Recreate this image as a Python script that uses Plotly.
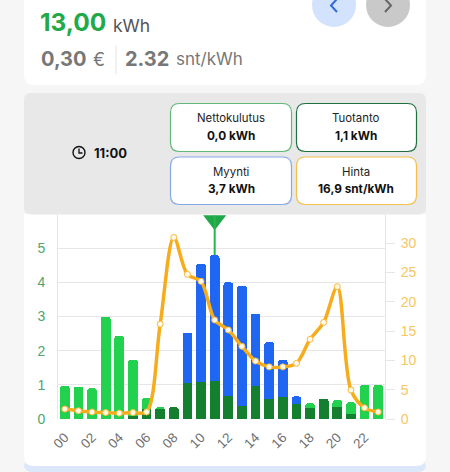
import plotly.graph_objects as go

hours = [f"{h:02d}" for h in range(24)]
tick_labels = [f"{h:02d}" for h in range(0, 24, 2)]
production = [0, 0, 0, 0, 0, 0.1, 0.28, 0.28, 0.35, 1.04, 1.07, 1.1, 0.67, 0.39, 0.98, 0.59, 0.65, 0.45, 0.32, 0.6, 0.36, 0.15, 0, 0]
consumption = [0.98, 0.95, 0.9, 3.0, 2.44, 1.64, 0.34, 0.07, 0, 0, 0, 0, 0, 0, 0, 0, 0, 0, 0.14, 0, 0.19, 0.34, 1.0, 1.0]
sold = [0, 0, 0, 0, 0, 0, 0, 0, 0, 1.49, 3.48, 3.7, 3.33, 3.51, 2.1, 1.66, 1.08, 0.21, 0, 0, 0, 0, 0, 0]
price = [1.7, 1.4, 1.2, 1.1, 1.0, 1.1, 1.2, 16.2, 31.0, 24.7, 23.5, 16.9, 15.2, 12.4, 9.9, 8.9, 8.9, 9.5, 13.6, 16.5, 22.6, 4.95, 1.9, 1.2]
selected_hour = "11"
selected_total = 4.8
left_ticks = [0, 1, 2, 3, 4, 5]
right_ticks = [0, 5, 10, 15, 20, 25, 30]

W, H = 450, 472
X = lambda x: x / W
Y = lambda y: 1 - y / H
FONT = "Inter, Roboto, sans-serif"


def rrect(x0, y0, x1, y1, r, tl=True, tr=True, br=True, bl=True):
    a, b, c, d = (r if tl else 0), (r if tr else 0), (r if br else 0), (r if bl else 0)
    p = [f"M{X(x0 + a)},{Y(y0)}", f"L{X(x1 - b)},{Y(y0)}"]
    if b: p.append(f"Q{X(x1)},{Y(y0)} {X(x1)},{Y(y0 + b)}")
    p.append(f"L{X(x1)},{Y(y1 - c)}")
    if c: p.append(f"Q{X(x1)},{Y(y1)} {X(x1 - c)},{Y(y1)}")
    p.append(f"L{X(x0 + d)},{Y(y1)}")
    if d: p.append(f"Q{X(x0)},{Y(y1)} {X(x0)},{Y(y1 - d)}")
    p.append(f"L{X(x0)},{Y(y0 + a)}")
    if a: p.append(f"Q{X(x0)},{Y(y0)} {X(x0 + a)},{Y(y0)}")
    return "".join(p) + "Z"


def panel(x0, y0, x1, y1, r, fill, line=None, width=0, **kw):
    return dict(type="path", path=rrect(x0, y0, x1, y1, r, **kw), xref="paper", yref="paper",
                fillcolor=fill, line=dict(color=line or fill, width=width), layer="below")


def circle(cx, cy, r, fill, line=None, width=0):
    return dict(type="circle", xref="paper", yref="paper", x0=X(cx - r), x1=X(cx + r), y0=Y(cy + r), y1=Y(cy - r),
                fillcolor=fill, line=dict(color=line or fill, width=width), layer="below")


def polyline(points, color, width):
    d = "M" + "L".join(f"{X(a)},{Y(b)}" for a, b in points)
    return dict(type="path", path=d, xref="paper", yref="paper", line=dict(color=color, width=width), layer="below")


def text(x, y, s, size, color, anchor="left", family=FONT):
    return dict(x=X(x), y=Y(y), xref="paper", yref="paper", text=s, showarrow=False, xanchor=anchor, yanchor="middle",
                font=dict(size=size, color=color, family=family), borderpad=0, borderwidth=0)


shapes = [
    panel(24, -20, 426, 85, 10, "#ffffff"),
    circle(334, 5, 22, "#d3e2fd"),
    circle(388, 5, 22, "#c9c9c9"),
    polyline([(337, -1), (331, 5.5), (337, 12)], "#2f6bdc", 2),
    polyline([(385, -1), (391, 5.5), (385, 12)], "#666666", 2),
    dict(type="line", xref="paper", yref="paper", x0=X(116), x1=X(116), y0=Y(45), y1=Y(74), line=dict(color="#e4e4e4", width=1), layer="below"),
    panel(24, 460, 426, 472, 8, "#dce7fb"),
    panel(24, 214, 426, 466, 10, "#ffffff", tl=False, tr=False),
    panel(24, 93, 426, 214.5, 7, "#e8e8e8", tl=True, tr=True),
    panel(170.5, 103.5, 291.5, 151.5, 9, "#ffffff", "#62b877", 1.2),
    panel(296.5, 103.5, 416.5, 151.5, 9, "#ffffff", "#1f6f3f", 1.2),
    panel(170.5, 157, 291.5, 204.5, 9, "#ffffff", "#83a9e8", 1.2),
    panel(296.5, 157, 416.5, 204.5, 9, "#ffffff", "#f3c04f", 1.2),
    circle(79, 152.5, 6, "#e8e8e8", "#111111", 1.4),
    polyline([(79, 148.5), (79, 153), (82.5, 153)], "#111111", 1.3),
    dict(type="line", xref="x", yref="y", x0=selected_hour, x1=selected_hour, y0=selected_total, y1=5.95,
         line=dict(color="#27b54d", width=2), layer="above"),
]

annotations = [
    text(40, 22, "<b>13,00</b>", 24.5, "#22a94a"),
    text(113, 26, "kWh", 17.5, "#555555"),
    text(40.5, 59, "<b>0,30</b>", 20, "#777777"),
    text(93, 59, "€", 18, "#777777"),
    text(125, 59, "<b>2.32</b>", 20, "#777777"),
    text(176, 59, "snt/kWh", 17, "#777777"),
    text(93.5, 153.5, "<b>11:00</b>", 13, "#111111"),
    text(231, 118, "Nettokulutus", 11.4, "#222222", "center"),
    text(231, 135.5, "<b>0,0 kWh</b>", 11.8, "#111111", "center"),
    text(356, 118, "Tuotanto", 11.4, "#222222", "center"),
    text(356, 135.5, "<b>1,1 kWh</b>", 11.8, "#111111", "center"),
    text(231, 171.5, "Myynti", 11.4, "#222222", "center"),
    text(231, 189, "<b>3,7 kWh</b>", 11.8, "#111111", "center"),
    text(356, 171.5, "Hinta", 11.4, "#222222", "center"),
    text(356, 189, "<b>16,9 snt/kWh</b>", 11.8, "#111111", "center"),
]

fig = go.Figure()
fig.add_bar(x=hours, y=production, marker=dict(color="#14802f", line_width=0), name="Tuotanto")
fig.add_bar(x=hours, y=consumption, marker=dict(color="#22d24f", line_width=0), name="Nettokulutus")
fig.add_bar(x=hours, y=sold, marker=dict(color="#1f66f2", line_width=0), name="Myynti")
fig.add_scatter(x=hours, y=price, yaxis="y2", mode="lines+markers", name="Hinta",
                line=dict(color="#f7ac1c", width=3.5, shape="spline", smoothing=0.9),
                marker=dict(size=6, color="#fff8e8", line=dict(color="#f7b93a", width=1)), cliponaxis=False)
fig.add_scatter(x=[selected_hour], y=[5.82], mode="markers", name="Valinta",
                marker=dict(symbol="triangle-down", size=20, color="#1fa84a", line_width=0), cliponaxis=False)

fig.update_layout(
    width=W, height=H, margin=dict(l=0, r=0, t=0, b=0), showlegend=False,
    paper_bgcolor="#f6f6f7", plot_bgcolor="rgba(0,0,0,0)",
    barmode="stack", bargap=0.29, barcornerradius=3,
    shapes=shapes, annotations=annotations,
    xaxis=dict(domain=[X(58), X(385)], type="category", categoryorder="array", categoryarray=hours,
               range=[-0.5, 23.5], tickvals=tick_labels, ticktext=tick_labels, tickangle=-45,
               showgrid=False, showline=False, zeroline=False, ticks="",
               tickfont=dict(size=13.5, color="#707070", family="Liberation Sans"), automargin=False, ticklabelstandoff=7),
    yaxis=dict(domain=[Y(419), Y(214)], range=[0, 6], tickvals=left_ticks, showgrid=True, gridcolor="#e6e6e8", gridwidth=1,
               zeroline=False, showline=True, linecolor="#e6e6e8", ticks="", automargin=False, ticklabelstandoff=9,
               tickfont=dict(size=14, color="#4fa56f", family="Liberation Sans")),
    yaxis2=dict(domain=[Y(419), Y(214)], range=[0, 35], tickvals=right_ticks, overlaying="y", side="right", showgrid=False,
                zeroline=False, showline=True, linecolor="#e6e6e8", ticks="outside", ticklen=9, tickcolor="#e6e6e8",
                automargin=False, ticklabelstandoff=3,
                tickfont=dict(size=14, color="#f5c766", family="Liberation Sans")),
)

fig.write_html("out.html", config=dict(displayModeBar=False), post_script="document.body.style.margin='0';document.body.style.background='#f6f6f7';")
